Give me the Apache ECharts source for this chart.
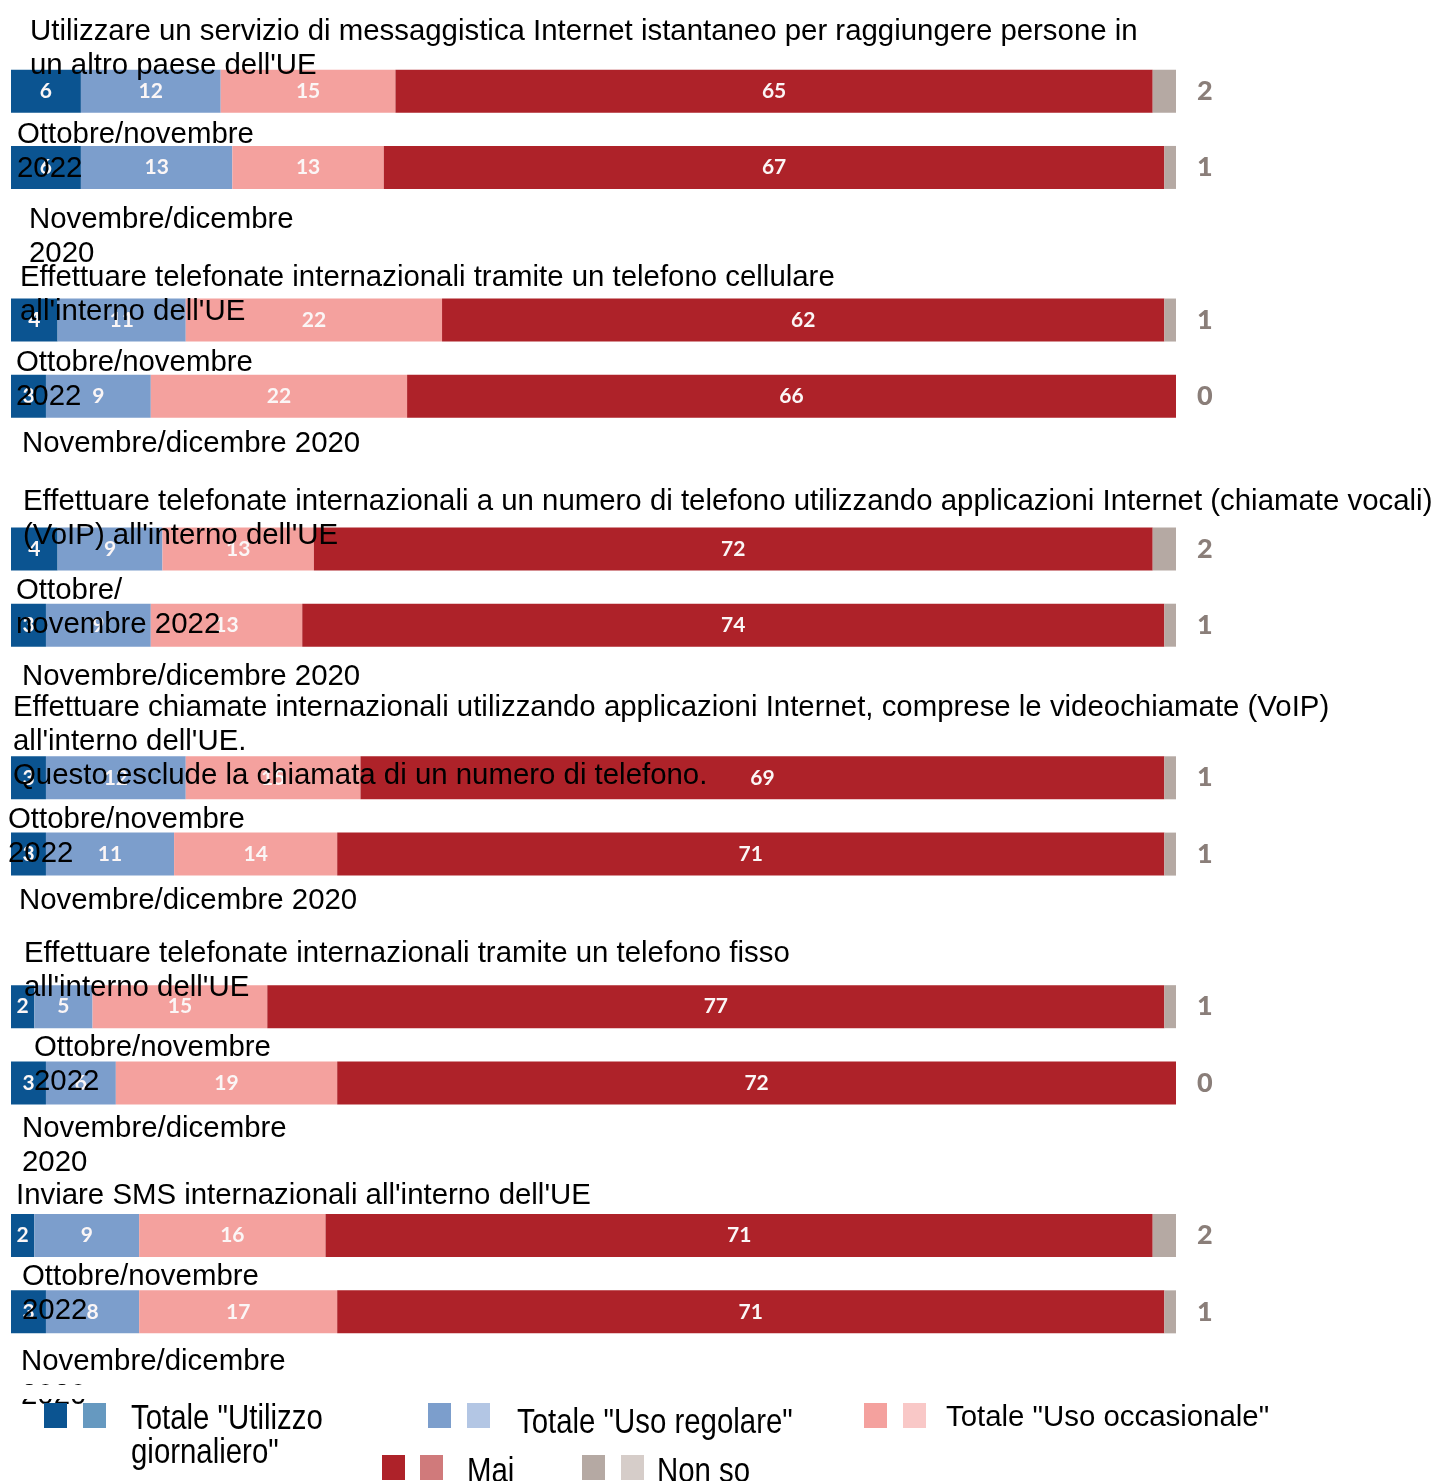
<!DOCTYPE html>
<html>
<head>
<meta charset="utf-8">
<script src="https://cdn.jsdelivr.net/npm/echarts@6/dist/echarts.min.js"></script>
<style>
  html, body { margin: 0; padding: 0; background: #ffffff; }
  #chart { width: 1434px; height: 1481px; }
</style>
</head>
<body>
<div id="chart"></div>
<script>
// Survey topics (one pair of bars each: 2022 wave on top, 2020 wave below)
const topics = [
  "Utilizzare un servizio di messaggistica Internet istantaneo per raggiungere persone in\nun altro paese dell'UE",
  "Effettuare telefonate internazionali tramite un telefono cellulare\nall'interno dell'UE",
  "Effettuare telefonate internazionali a un numero di telefono utilizzando applicazioni Internet (chiamate vocali)\n(VoIP) all'interno dell'UE",
  "Effettuare chiamate internazionali utilizzando applicazioni Internet, comprese le videochiamate (VoIP)\nall'interno dell'UE.\nQuesto esclude la chiamata di un numero di telefono.",
  "Effettuare telefonate internazionali tramite un telefono fisso\nall'interno dell'UE",
  "Inviare SMS internazionali all'interno dell'UE"
];

// Period labels as they are wrapped under each topic
const periodLabels = [
  ["Ottobre/novembre\n2022", "Novembre/dicembre\n2020"],
  ["Ottobre/novembre\n2022", "Novembre/dicembre 2020"],
  ["Ottobre/\nnovembre 2022", "Novembre/dicembre 2020"],
  ["Ottobre/novembre\n2022", "Novembre/dicembre 2020"],
  ["Ottobre/novembre\n2022", "Novembre/dicembre\n2020"],
  ["Ottobre/novembre\n2022", "Novembre/dicembre\n2020"]
];

// Shares (%), ordered topic by topic: [2022, 2020, 2022, 2020, ...]
const giornaliero = [6, 6, 4, 3, 4, 3, 3, 3, 2, 3, 2, 3];
const regolare    = [12, 13, 11, 9, 9, 9, 12, 11, 5, 6, 9, 8];
const occasionale = [15, 13, 22, 22, 13, 13, 15, 14, 15, 19, 16, 17];
const mai         = [65, 67, 62, 66, 72, 74, 69, 71, 77, 72, 71, 71];
const nonSo       = [2, 1, 1, 0, 2, 1, 1, 1, 1, 0, 2, 1];

const legendNames = [
  'Totale "Utilizzo\ngiornaliero"',
  'Totale "Uso regolare"',
  'Totale "Uso occasionale"',
  'Mai',
  'Non so'
];

// ---- styling ----
const COLORS = ['#0b5491', '#7c9ecc', '#f4a19e', '#ae2229', '#b5a9a3'];
const LIGHT = ['#6699c0', '#b3c6e4', '#f9c8c7', '#d07a7b', '#d6cdc9'];
const TEXT_FONT = '"Liberation Sans", Arial, sans-serif';
const TEXT_SIZE = 29.4;

// Category rows: two bars per topic plus an empty spacer row between topics
const rowKeys = [];
const rowIndex = [];  // maps row -> data index or -1
topics.forEach((t, g) => {
  rowKeys.push('t' + g + 'a'); rowIndex.push(g * 2);
  rowKeys.push('t' + g + 'b'); rowIndex.push(g * 2 + 1);
  if (g < topics.length - 1) { rowKeys.push('t' + g + 's'); rowIndex.push(-1); }
});
const toRows = arr => rowIndex.map(i => (i < 0 ? null : arr[i]));

const innerLabel = {
  show: true,
  position: 'inside',
  color: '#fbf6f6',
  fontFamily: 'Lato, "Open Sans", sans-serif',
  fontWeight: 'bold',
  fontSize: 21
};

const seriesValues = [giornaliero, regolare, occasionale, mai, nonSo];
const series = seriesValues.map((vals, k) => ({
  name: legendNames[k].replace('\n', ' '),
  type: 'bar',
  stack: 'totale',
  barWidth: 43,
  data: toRows(vals),
  itemStyle: { color: COLORS[k] },
  label: k < 4 ? innerLabel : {
    show: true,
    position: 'right',
    distance: 21,
    color: '#8a7e79',
    fontFamily: 'Lato, "Open Sans", sans-serif',
    fontWeight: 900,
    fontSize: 27
  },
  emphasis: { disabled: true },
  animation: false
}));

// ---- overlaid text blocks ----
function textBlock(x, yCenter, text) {
  return {
    type: 'text',
    x: x,
    y: yCenter - 15,
    z: 100,
    style: {
      text: text,
      fill: '#000000',
      font: TEXT_SIZE + 'px ' + TEXT_FONT,
      lineHeight: 34,
      verticalAlign: 'top',
      align: 'left'
    }
  };
}

const topicPos = [[30, 30], [20, 276], [23, 500], [13, 706], [24, 952], [16, 1194]];
const periodPos = [
  [[17, 133], [29, 218]],
  [[16, 361], [22, 442]],
  [[16, 589], [22, 675]],
  [[8, 818], [19, 899]],
  [[34, 1046], [22, 1127]],
  [[22, 1275], [21, 1360]]
];

const graphics = [];
topics.forEach((t, g) => {
  graphics.push(textBlock(topicPos[g][0], topicPos[g][1], t));
  periodLabels[g].forEach((p, j) => {
    graphics.push(textBlock(periodPos[g][j][0], periodPos[g][j][1], p));
  });
});
// the last text box is cut off at the bottom
graphics.push({
  type: 'rect', z: 101,
  shape: { x: 0, y: 1385, width: 120, height: 14 },
  style: { fill: '#ffffff' }
});

// ---- legend (paired swatches) ----
const legendLayout = [
  { sq: [44, 83], y: 1403, tx: 131, ty: 1419, stretch: 1.2 },
  { sq: [428, 467], y: 1403, tx: 517, ty: 1423, stretch: 1.2 },
  { sq: [864, 903], y: 1403, tx: 946, ty: 1418, stretch: 1 },
  { sq: [382, 420], y: 1455, tx: 467, ty: 1472, stretch: 1.2 },
  { sq: [582, 621], y: 1455, tx: 657, ty: 1472, stretch: 1.2 }
];
legendLayout.forEach((it, k) => {
  graphics.push({ type: 'rect', z: 100, shape: { x: it.sq[0], y: it.y, width: 23, height: 25 }, style: { fill: COLORS[k] } });
  graphics.push({ type: 'rect', z: 100, shape: { x: it.sq[1], y: it.y, width: 23, height: 25 }, style: { fill: LIGHT[k] } });
  legendNames[k].split('\n').forEach((line, li) => {
    graphics.push({
      type: 'text', z: 102,
      x: it.tx, y: it.ty + li * 34,
      scaleY: it.stretch,
      style: {
        text: line,
        fill: '#000000',
        font: TEXT_SIZE + 'px ' + TEXT_FONT,
        verticalAlign: 'middle',
        align: 'left'
      }
    });
  });
});

const chart = echarts.init(document.getElementById('chart'), null, { renderer: 'canvas' });
chart.setOption({
  animation: false,
  backgroundColor: '#ffffff',
  grid: { left: 11, right: 258, top: 53, bottom: 131, containLabel: false },
  xAxis: { type: 'value', min: 0, max: 100, show: false },
  yAxis: {
    type: 'category',
    data: rowKeys,
    inverse: true,
    show: false
  },
  series: series,
  graphic: graphics
});
</script>
</body>
</html>
